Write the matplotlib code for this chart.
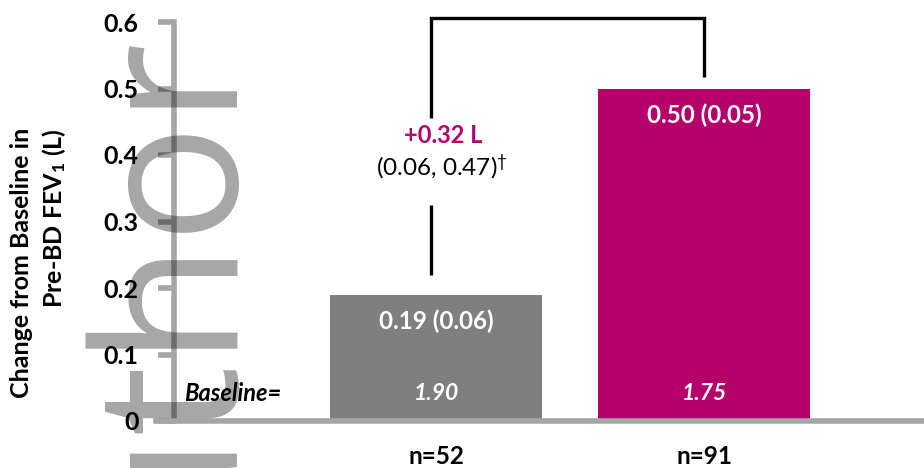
import matplotlib
matplotlib.use("Agg")
import matplotlib.pyplot as plt

# ---- data ----
groups = ["Placebo", "Active"]
changes = [0.19, 0.50]
se = [0.06, 0.05]
baselines = [1.90, 1.75]
n_labels = ["n=52", "n=91"]
diff_label = "+0.32 L"
ci_label = "(0.06, 0.47)"
yticks = [0, 0.1, 0.2, 0.3, 0.4, 0.5, 0.6]
ytick_labels = ["0", "0.1", "0.2", "0.3", "0.4", "0.5", "0.6"]

GRAY_BAR = "#7F7F7F"
MAGENTA = "#B5006B"
AXIS_GRAY = "#A6A6A6"

plt.rcParams["font.family"] = ["Lato", "DejaVu Sans"]
plt.rcParams["mathtext.fontset"] = "custom"
plt.rcParams["mathtext.rm"] = "Lato"
plt.rcParams["mathtext.bf"] = "Lato:bold"
plt.rcParams["mathtext.it"] = "Lato:italic"

W, H = 924, 468
fig = plt.figure(figsize=(W / 100, H / 100), dpi=100)

# axes: y-axis line at x~174px, y=0 at 421px, y=0.6 at 22px
left_px, right_px = 174, 924
y0_px, ytop_px = 421, 22
ax = fig.add_axes([left_px / W, 1 - y0_px / H, (right_px - left_px) / W, (y0_px - ytop_px) / H])

x = [0, 1]
colors = [GRAY_BAR, MAGENTA]
ax.bar(x, changes, width=0.79, color=colors, zorder=2)

ax.set_xlim(-0.978, 1.821)
ax.set_ylim(0, 0.6)

for s in ["top", "right"]:
    ax.spines[s].set_visible(False)
for s in ["left", "bottom"]:
    ax.spines[s].set_color(AXIS_GRAY)
    ax.spines[s].set_linewidth(4)
    ax.spines[s].set_zorder(3)
ax.spines["bottom"].set_bounds(-0.978 - 18 / 268, 1.821)

ax.set_yticks(yticks)
ax.set_yticklabels(ytick_labels, fontsize=18, fontweight="bold")
ax.tick_params(axis="y", direction="out", length=11.5, width=4, color=AXIS_GRAY, pad=14)

ax.set_xticks(x)
ax.set_xticklabels(n_labels, fontsize=17.5, fontweight="bold")
ax.tick_params(axis="x", length=0, pad=17)

# value labels inside bars
for xi, v, s_ in zip(x, changes, se):
    ax.text(xi, v - 0.04, f"{v:.2f} ({s_:.2f})", ha="center", va="center",
            color="white", fontsize=17.5, fontweight="bold", zorder=4)
# baseline values
for xi, b in zip(x, baselines):
    ax.text(xi, 0.041, f"{b:.2f}", ha="center", va="center", color="white",
            fontsize=16.5, fontweight="bold", fontstyle="italic", zorder=4)
ax.text(-0.757, 0.041, "Baseline=", ha="center", va="center", color="black",
        fontsize=17, fontweight="bold", fontstyle="italic", zorder=4)

# bracket
top = 0.606
xl, xr = -0.02, 1.0
lw = 2.4
ax.plot([xl, xl], [changes[0] + 0.03, changes[0] + 0.135], color="black", lw=lw, clip_on=False, zorder=4, solid_capstyle="butt")
ax.plot([xl, xl, xr, xr], [0.455, top, top, changes[1] + 0.017], color="black", lw=lw, clip_on=False, zorder=4,
        solid_capstyle="butt", solid_joinstyle="miter")
ax.text(xl + 0.045, 0.43, diff_label, ha="center", va="center", color=MAGENTA,
        fontsize=17, fontweight="bold", zorder=4)
ax.text(xl + 0.04, 0.382, ci_label + r"$^{†}$", ha="center", va="center", color="black",
        fontsize=17.5, zorder=4)

# y label
fig.text(39 / W, 1 - 263 / H, "Change from Baseline in\nPre-BD FEV$_\\mathbf{1}$ (L)",
         rotation=90, ha="center", va="center", multialignment="right",
         fontsize=18, fontweight="bold", linespacing=1.35)

# watermark
fig.text(238 / W, 1 - 42 / H, "Author", rotation=90, rotation_mode="anchor",
         ha="right", va="baseline", fontsize=143, family="Open Sans",
         color="black", alpha=0.35, zorder=10)

fig.savefig("out.png", dpi=100)
